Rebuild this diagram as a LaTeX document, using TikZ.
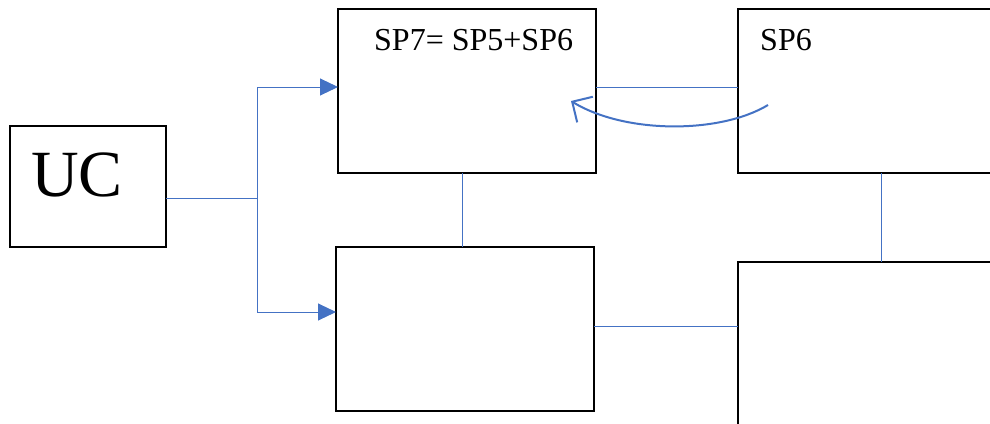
\documentclass[tikz,border=0pt]{standalone}
\usepackage{fontspec}
\setmainfont{Liberation Serif}
\usetikzlibrary{arrows.meta}
\definecolor{linkblue}{HTML}{4472C4}
\tikzset{
  x=1pt, y=-1pt,
  block/.style={draw=black, line width=1.4pt, fill=white},
  link/.style={draw=linkblue, line width=1pt},
  feed/.style={link, -{Triangle[length=18pt,width=17pt]}},
  label/.style={anchor=base west, inner sep=0pt, text=black}
}
\begin{document}
\begin{tikzpicture}
\useasboundingbox (0,0) rectangle (990,423);
\begin{scope}
\clip (0,0) rectangle (990,423);
% boxes
\draw[block] (10,126) rectangle (166,247);
\draw[block] (338,9) rectangle (596,173);
\draw[block] (336,247) rectangle (594,411);
\draw[block] (738,9) rectangle (1010,173);
\draw[block] (738,262) rectangle (1010,440);
\end{scope}
% anchor points on the box edges
\coordinate (ucR) at (166,198);
\coordinate (fork) at (257,198);
\coordinate (forkT) at (257,87);
\coordinate (forkB) at (257,312);
\coordinate (sp7L) at (338,87);
\coordinate (midL) at (336,312);
\coordinate (sp7B) at (462,173);
\coordinate (midT) at (462,247);
\coordinate (sp7R) at (596,87);
\coordinate (sp6L) at (738,87);
\coordinate (midR) at (594,326);
\coordinate (lowL) at (738,326);
\coordinate (sp6B) at (881,173);
\coordinate (lowT) at (881,262);
\coordinate (curveS) at (768,105);
\coordinate (curveE) at (571,101);
% connectors
\draw[link] (ucR) -- (fork);
\draw[link] (forkT) -- (forkB);
\draw[feed] (forkT) -- (sp7L);
\draw[feed] (forkB) -- (midL);
\draw[link] (sp7B) -- (midT);
\draw[link] (sp7R) -- (sp6L);
\draw[link] (midR) -- (lowL);
\draw[link] (sp6B) -- (lowT);
\draw[draw=linkblue, line width=2pt, -{Straight Barb[length=15pt,width=30pt,line width=2pt]}]
  (curveS) .. controls (720,134) and (625,134) .. (curveE);
% texts
\node[label, font=\fontsize{66}{70}\selectfont] (uc) at (31,196) {UC};
\node[label, font=\fontsize{32}{36}\selectfont] (sp7) at (374,50) {SP7= SP5+SP6};
\node[label, font=\fontsize{32}{36}\selectfont] (sp6) at (760,50) {SP6};
\end{tikzpicture}
\end{document}
